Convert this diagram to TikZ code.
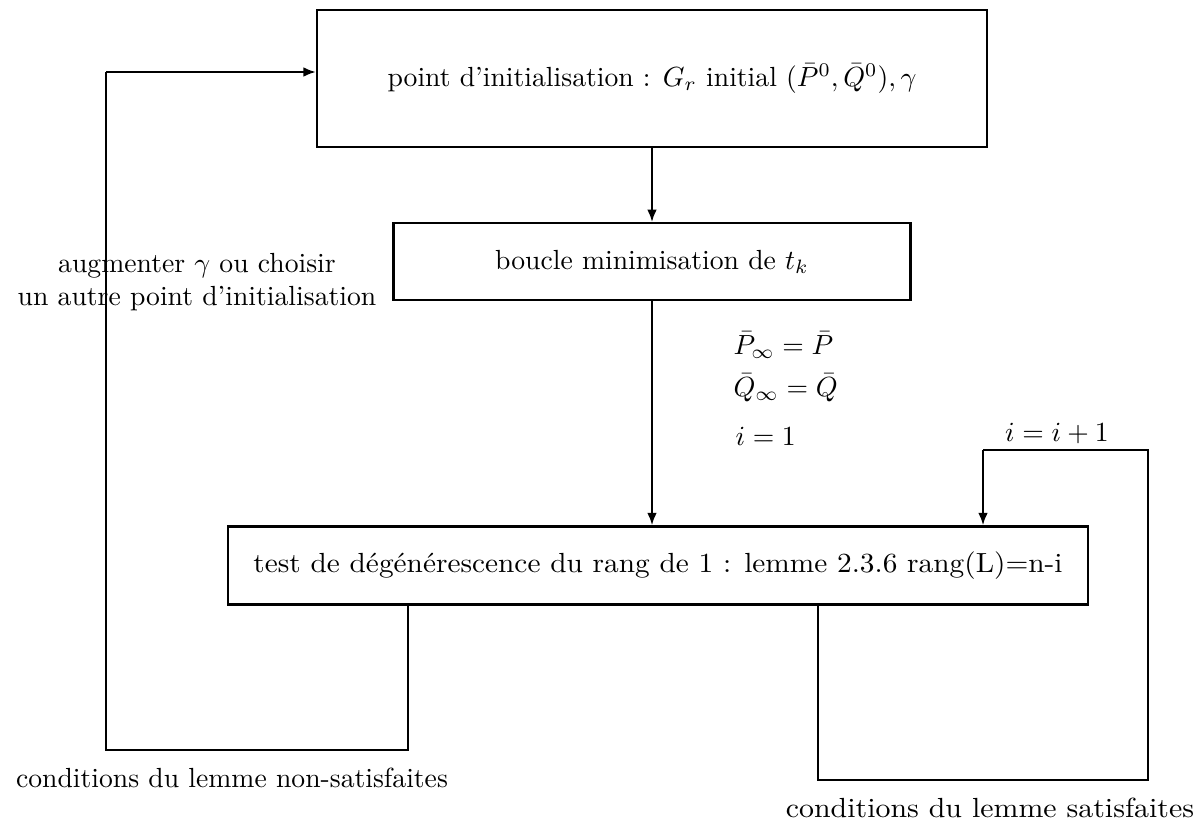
\documentclass[tikz,border=0pt]{standalone}
\usepackage{amsmath}
\usepackage{graphicx}
\usepackage{tikz}
\usetikzlibrary{arrows.meta, calc, positioning}
\tikzset{%
  block/.style={%
    rectangle,%
    draw=black,%
    thick,%
    inner sep=0pt,%
    font={},%
    align=center%
  },
  loop_path/.style={%
    color=black,%
    line join=miter,%
    thin,%
  },
  feed_path/.style={%
    color=black,%
    line join=miter,%
    thick,%
  },
  annotate/.style={%
    font={},%
    inner sep=0pt,%
    align=center,%
  },
  arrow/.style={-{Latex[length=0.45em, width=0.35em]}},
}

\begin{document}
\begin{tikzpicture}[x=1in, y=1in]
    \useasboundingbox (0,0) rectangle (6,-4.145);
    \node [block, minimum width=3.35in, minimum height=0.685in]
      (Init) at (3.26,-0.3925)
      {point d'initialisation : \(G_r\) initial \((\bar{P}^0,\bar{Q}^0),\gamma\)};
    \node [block, minimum width=2.585in, minimum height=0.385in,
      below = 0.37 of Init] (Boucle) {boucle minimisation de \(t_k\)};
    \node [block, minimum width=4.30in, minimum height=0.39in,
      below = 1.12 of Boucle, xshift=0.03in] (Test)
      {\scalebox{1.06}[1]{test de dégénérescence du rang de 1 : lemme 2.3.6 rang(L)=n-i}};

    \coordinate (ok_start) at ($(Test.south)+(0.8,0)$);
    \coordinate (ok_corner) at (5.74,-3.9);
    \coordinate (ok_top) at (5.74,-2.25);
    \coordinate (ok_back) at (4.915,-2.25);
    \coordinate (nok_start) at ($(Test.south)+(-1.25,0)$);
    \coordinate (nok_corner) at (0.53,-3.75);
    \coordinate (nok_top) at (0.53,-0.36);

    \node [annotate, anchor=west] (Pinf) at (3.665,-1.725)
      {\(\bar{P}_\infty=\bar{P}\)};
    \node [annotate, anchor=west] (Qinf) at (3.665,-1.94)
      {\(\bar{Q}_\infty=\bar{Q}\)};
    \node [annotate, anchor=west] (Iun) at (3.675,-2.18) {\(i=1\)};
    \node [annotate] (Incr) at (5.285,-2.17) {\(i=i+1\)};
    \node [annotate] (Augm) at (0.985,-1.41)
      {augmenter \(\gamma\) ou choisir\\un autre point d'initialisation};
    \node [annotate] (NonSat) at (1.16,-3.89)
      {conditions du lemme non-satisfaites};
    \node [annotate] (Sat) at (4.95,-4.04)
      {\scalebox{1.08}[1]{conditions du lemme satisfaites}};

    \draw [arrow, feed_path]
      (Init.south)
      --
      (Boucle.north);
    \draw [arrow, feed_path]
      (Boucle.south)
      --
      (Boucle.south |- Test.north);
    \draw [loop_path]
      (ok_start)
      |-
      (ok_corner)
      --
      (ok_top)
      --
      (ok_back);
    \draw [arrow, feed_path]
      (ok_back)
      --
      (ok_back |- Test.north);
    \draw [loop_path]
      (nok_start)
      |-
      (nok_corner)
      --
      (nok_top);
    \draw [arrow, feed_path]
      (nok_top)
      --
      (Init.west |- nok_top);
  \end{tikzpicture}
\end{document}
